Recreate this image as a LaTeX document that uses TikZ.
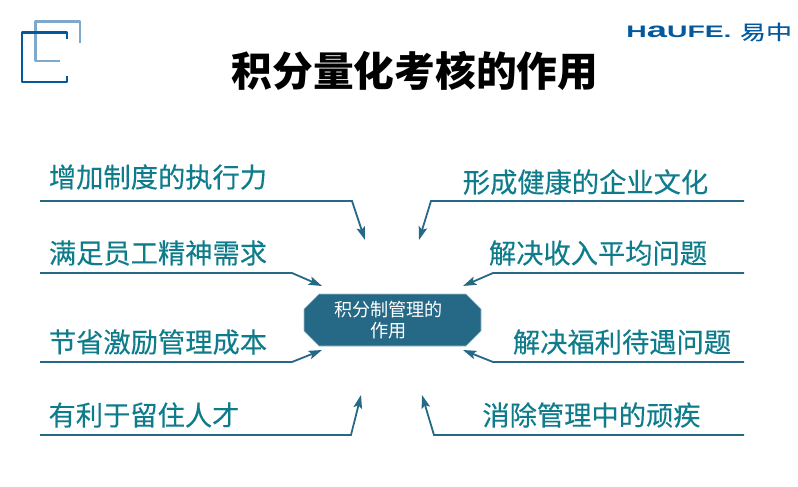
\documentclass[tikz,border=0pt]{standalone}
\usepackage{fontspec}
\setmainfont{Noto Sans CJK SC}
\newfontfamily\labfont{Noto Sans CJK SC}[FakeBold=0.25]
\newfontfamily\latinlogo{Liberation Sans}
\usetikzlibrary{arrows.meta}
\definecolor{txt}{HTML}{0F7C8C}
\definecolor{boxc}{HTML}{266987}
\definecolor{boxe}{HTML}{9DBFCC}
\definecolor{logod}{HTML}{03599C}
\definecolor{logol}{HTML}{7FA9CC}
\tikzset{
 x=0.75pt,y=-0.75pt,
 lab/.style={inner sep=0pt,text=txt,font=\labfont\fontsize{20.45pt}{24pt}\selectfont,anchor=center},
 conn/.style={draw=boxc,line width=1.35pt,-{Stealth[length=10pt,width=6.5pt,inset=2pt]}},
 hubshape/.style={fill=boxc,draw=boxe,line width=.5pt},
 hub/.style={inner sep=0pt,text=white,align=center,font=\fontsize{13.6pt}{15.9pt}\selectfont},
 logoline/.style={line width=2.1pt,line join=round}
}
\begin{document}
\begin{tikzpicture}
\useasboundingbox (0,0) rectangle (798,486);
% corner mark
\draw[logoline,logol] (80,43) -- (80,21.5) -- (35.5,21.5) -- (35.5,61) -- (60,61);
\draw[logoline,logod] (67,39) -- (67,32.5) -- (22,32.5) -- (22,82) -- (67,82) -- (67,76);
% brand
\node (brand) at (679,31.5) [inner sep=0pt,text=logod,xscale=1.7,font=\latinlogo\bfseries\fontsize{12.5pt}{13pt}\selectfont] {H{\fontsize{16pt}{16pt}\selectfont a}UFE.};
\node (brandcn) at (766,32) [inner sep=0pt,text=logod,xscale=1.3,font=\labfont\fontsize{15pt}{16pt}\selectfont] {易中};
% title
\node (title) at (415,71) [inner sep=0pt,font=\bfseries\fontsize{30.55pt}{34pt}\selectfont] {积分量化考核的作用};
% hub
\path[hubshape] (319,294) -- (466,294) -- (481,309) -- (481,331) -- (466,346) -- (319,346) -- (304,331) -- (304,309) -- cycle;
\node[hub] (hub) at (388.5,320) {积分制管理的\\作用};
% labels
\node[lab] (l1) at (158,177) {增加制度的执行力};
\node[lab] (l2) at (158,253) {满足员工精神需求};
\node[lab] (l3) at (158,342) {节省激励管理成本};
\node[lab] (l4) at (144,415) {有利于留住人才};
\node[lab] (r1) at (585.5,182) {形成健康的企业文化};
\node[lab] (r2) at (598,253) {解决收入平均问题};
\node[lab] (r3) at (622,342) {解决福利待遇问题};
\node[lab] (r4) at (591.5,415) {消除管理中的顽疾};
% anchors
\coordinate (a1) at (40,201); \coordinate (b1) at (352,201); \coordinate (c1) at (365,240);
\coordinate (a2) at (40,273); \coordinate (b2) at (292,273); \coordinate (c2) at (322,286);
\coordinate (a3) at (40,362); \coordinate (b3) at (292,362); \coordinate (c3) at (322,350);
\coordinate (a4) at (40,435); \coordinate (b4) at (351,435); \coordinate (c4) at (361,395);
\coordinate (d1) at (744,201); \coordinate (e1) at (431,201); \coordinate (f1) at (419,240);
\coordinate (d2) at (744,273); \coordinate (e2) at (493,273); \coordinate (f2) at (463,286);
\coordinate (d3) at (744,362); \coordinate (e3) at (493,362); \coordinate (f3) at (463,350);
\coordinate (d4) at (744,435); \coordinate (e4) at (434,435); \coordinate (f4) at (422,395);
\draw[conn] (a1) -- (b1) -- (c1);
\draw[conn] (a2) -- (b2) -- (c2);
\draw[conn] (a3) -- (b3) -- (c3);
\draw[conn] (a4) -- (b4) -- (c4);
\draw[conn] (d1) -- (e1) -- (f1);
\draw[conn] (d2) -- (e2) -- (f2);
\draw[conn] (d3) -- (e3) -- (f3);
\draw[conn] (d4) -- (e4) -- (f4);
\end{tikzpicture}
\end{document}
